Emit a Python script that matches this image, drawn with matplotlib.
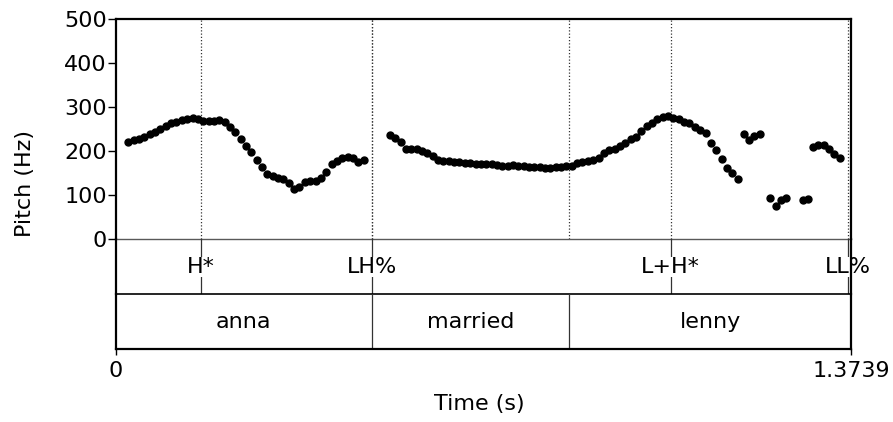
import numpy as np
import matplotlib
matplotlib.use("Agg")
import matplotlib.pyplot as plt

plt.rcParams['font.family'] = ['DejaVu Sans']

# duracion total y paso de los frames de pitch
t_total = 1.3739
paso = 0.01

# segmentos de pitch (inicio en s, valores en Hz)
seg_inicio = [0.023, 0.512, 1.173, 1.223, 1.284, 1.303]
seg_pitch = [
    [221, 225, 227, 233, 238, 244, 250, 258, 263, 267, 271, 273, 275, 272, 268,
     268, 268, 271, 267, 256, 243, 227, 212, 199, 180, 165, 149, 144, 140, 136,
     128, 114, 119, 130, 132, 132, 140, 153, 171, 178, 185, 187, 184, 175, 179],
    [237, 231, 221, 206, 204, 205, 200, 195, 189, 181, 178, 177, 175, 175, 174,
     173, 172, 171, 170, 170, 168, 167, 167, 168, 167, 166, 163, 163, 163, 161,
     161, 163, 164, 166, 166, 174, 175, 178, 180, 184, 195, 203, 206, 212, 219,
     227, 233, 246, 258, 265, 272, 277, 280, 276, 272, 267, 263, 256, 248, 242,
     219, 203, 182, 162, 150, 137],
    [240, 225, 235, 239],
    [94, 76, 89, 93],
    [89, 91],
    [209, 214, 214, 206, 193, 184],
]

# tier de tonos (puntos)
tonos = ["H*", "LH%", "L+H*", "LL%"]
tonos_t = [0.158, 0.478, 1.037, 1.368]

# tier de palabras (intervalos)
palabras = ["anna", "married", "lenny"]
limites = [0.0, 0.478, 0.847, t_total]

W, H = 893, 422
fs = 16
fig = plt.figure(figsize=(W / 100, H / 100), dpi=100)

def caja(y_top, y_bot):
    return [116 / W, (H - y_bot) / H, 735 / W, (y_bot - y_top) / H]

ax = fig.add_axes(caja(19, 239.3))
ax1 = fig.add_axes(caja(239.3, 294))
ax2 = fig.add_axes(caja(294, 349))
for a in (ax, ax1, ax2):
    a.patch.set_facecolor('none')

gris = '0.2'

# pitch
for t0, vals in zip(seg_inicio, seg_pitch):
    tt = t0 + paso * np.arange(len(vals))
    ax.plot(tt, vals, 'o', color='black', ms=5, mec='black', zorder=3)

for t in tonos_t + limites[1:-1]:
    ax.axvline(t, color=gris, lw=0.9, ls=(0, (1, 1.6)), zorder=1)

ax.set_xlim(0, t_total)
ax.set_ylim(0, 500)
ax.set_yticks([0, 100, 200, 300, 400, 500])
ax.set_xticks([])
ax.tick_params(axis='y', labelsize=fs, length=6, width=1, pad=0.5)
for s in ['left', 'top', 'right']:
    ax.spines[s].set_linewidth(1.6)
ax.spines['bottom'].set_linewidth(1.0)
ax.spines['bottom'].set_color('0.35')

# tier 1
for lab, t in zip(tonos, tonos_t):
    ax1.plot([t, t], [0, 1], color=gris, lw=0.9, zorder=1)
    ax1.text(t, 0.5, lab, ha='center', va='center', fontsize=fs, zorder=2,
             bbox=dict(facecolor='white', edgecolor='none', pad=0))
ax1.set_xlim(0, t_total)
ax1.set_ylim(0, 1)
ax1.set_xticks([])
ax1.set_yticks([])
ax1.spines['top'].set_visible(False)
ax1.spines['left'].set_linewidth(1.6)
ax1.spines['right'].set_linewidth(1.6)
ax1.spines['bottom'].set_linewidth(1.2)

# tier 2
for t in limites[1:-1]:
    ax2.plot([t, t], [0, 1], color=gris, lw=0.9)
for i, w in enumerate(palabras):
    ax2.text((limites[i] + limites[i + 1]) / 2, 0.5, w, ha='center', va='center', fontsize=fs)
ax2.set_xlim(0, t_total)
ax2.set_ylim(0, 1)
ax2.set_yticks([])
ax2.set_xticks([0, t_total])
ax2.set_xticklabels(["0", "1.3739"])
ax2.tick_params(axis='x', labelsize=fs, length=4.5, width=1, pad=4)
ax2.spines['top'].set_visible(False)
for s in ['left', 'right', 'bottom']:
    ax2.spines[s].set_linewidth(1.6)

fig.text(24.5 / W, (H - 184) / H, "Pitch (Hz)", rotation=90, ha='center', va='center', fontsize=fs)
fig.text(479 / W, (H - 404) / H, "Time (s)", ha='center', va='center', fontsize=fs)

fig.savefig("out.png", dpi=100)
